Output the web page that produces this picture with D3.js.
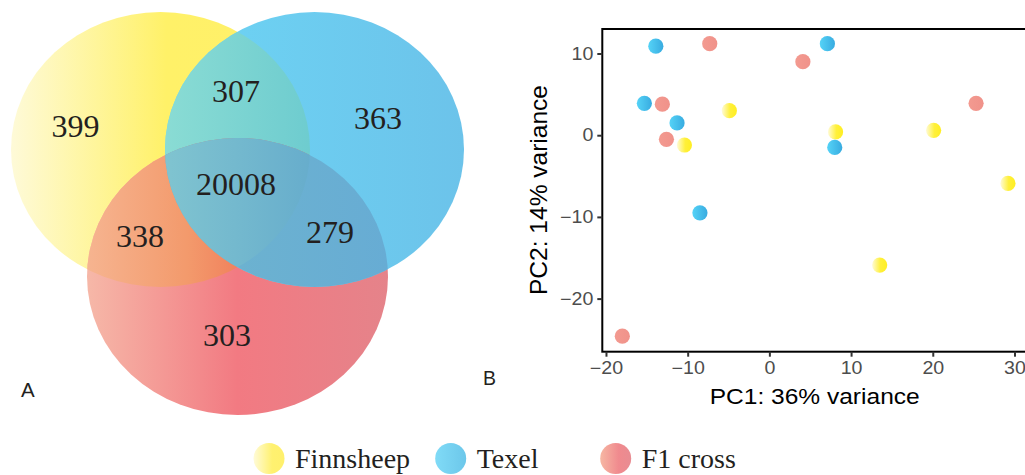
<!DOCTYPE html>
<html><head><meta charset="utf-8">
<script src="https://cdn.jsdelivr.net/npm/d3@7"></script>
<style>body{margin:0;background:#fff}svg{display:block}</style>
</head><body>
<svg id="c" width="1025" height="475"></svg>
<script>
// ---------- data ----------
const groups = ["Finnsheep", "Texel", "F1 cross"];
const vennRegions = ["Finnsheep only", "Texel only", "F1 only", "Finnsheep∩Texel", "Finnsheep∩F1", "Texel∩F1", "all three"];
const vennCounts = [399, 363, 303, 307, 338, 279, 20008];
const finnPC1 = [-4.9, -10.4, 8.1, 20.1, 29.2, 13.5];
const finnPC2 = [3.0, -1.2, 0.4, 0.6, -5.9, -15.9];
const texelPC1 = [-13.9, 7.1, -15.3, -11.3, 8.0, -8.5];
const texelPC2 = [10.9, 11.2, 3.9, 1.5, -1.5, -9.5];
const f1PC1 = [-7.3, 4.1, -13.1, -12.6, 25.3, -18.0];
const f1PC2 = [11.2, 9.0, 3.8, -0.5, 3.9, -24.6];
const xTicks = [-20, -10, 0, 10, 20, 30];
const yTicks = [-20, -10, 0, 10];
const xTitle = "PC1: 36% variance";
const yTitle = "PC2: 14% variance";

const svg = d3.select("#c");
const defs = svg.append("defs");
function lin(id, x1, x2, stops){
  const g = defs.append("linearGradient").attr("id", id)
    .attr("gradientUnits","userSpaceOnUse").attr("x1",x1).attr("x2",x2).attr("y1",0).attr("y2",0);
  stops.forEach(s => g.append("stop").attr("offset", s[0]).attr("stop-color", s[1]));
}
function linBB(id, stops){
  const g = defs.append("linearGradient").attr("id", id).attr("x1",0).attr("x2",1).attr("y1",0).attr("y2",0);
  stops.forEach(s => g.append("stop").attr("offset", s[0]).attr("stop-color", s[1]));
}

// ---------- Venn (A) ----------
const E = {
  Y: {cx:160.5, cy:149.5, rx:149.5, ry:137.5},
  B: {cx:314.5, cy:149.5, rx:149.5, ry:137.5},
  R: {cx:237.5, cy:276.5, rx:150.5, ry:138.5}
};
lin("gY", 11, 310, [[0,"#fefad8"],[0.52,"#fff168"],[1,"#fff06a"]]);
lin("gB", 165, 464, [[0,"#6dd5f5"],[1,"#6cc3ea"]]);
lin("gR", 87, 388, [[0,"#f6b8a8"],[0.5,"#f27a82"],[1,"#e5838a"]]);
lin("gYB", 165, 310, [[0,"#8adcd4"],[1,"#6ecccf"]]);
lin("gYR", 87, 310, [[0,"#f6b490"],[0.45,"#f39a6c"],[0.75,"#f07a58"],[1,"#f07a58"]]);
lin("gBR", 237, 388, [[0,"#6cb2d0"],[1,"#67acd4"]]);
lin("gYBR", 165, 310, [[0,"#80c4d0"],[1,"#67adcc"]]);

["Y","B","R"].forEach(k=>{
  defs.append("clipPath").attr("id","clip"+k).append("ellipse")
    .attr("cx",E[k].cx).attr("cy",E[k].cy).attr("rx",E[k].rx).attr("ry",E[k].ry);
});
const venn = svg.append("g");
function ell(parent, k, fill){
  return parent.append("ellipse").attr("cx",E[k].cx).attr("cy",E[k].cy)
    .attr("rx",E[k].rx).attr("ry",E[k].ry).attr("fill",fill);
}
ell(venn,"Y","url(#gY)");
ell(venn,"R","url(#gR)");
ell(venn,"B","url(#gB)");
ell(venn.append("g").attr("clip-path","url(#clipY)"),"B","url(#gYB)");
ell(venn.append("g").attr("clip-path","url(#clipY)"),"R","url(#gYR)");
ell(venn.append("g").attr("clip-path","url(#clipB)"),"R","url(#gBR)");
ell(venn.append("g").attr("clip-path","url(#clipY)").append("g").attr("clip-path","url(#clipB)"),"R","url(#gYBR)");

const vennLabelPos = [[75.5,137],[378,129],[227,346],[236,102],[140,247],[330,243],[236,195]];
venn.selectAll("text.cnt").data(vennCounts).join("text").attr("class","cnt")
  .attr("x",(d,i)=>vennLabelPos[i][0]).attr("y",(d,i)=>vennLabelPos[i][1])
  .attr("text-anchor","middle").attr("font-family","Liberation Serif, Times New Roman, serif")
  .attr("font-size",32).attr("fill","#231f20").text(d=>d);

svg.append("text").attr("x",21).attr("y",397).attr("font-family","Liberation Sans, Arial, sans-serif")
  .attr("font-size",20.5).attr("fill","#231f20").text("A");
svg.append("text").attr("x",483).attr("y",385).attr("font-family","Liberation Sans, Arial, sans-serif")
  .attr("font-size",21).attr("fill","#231f20").attr("textLength",13).attr("lengthAdjust","spacingAndGlyphs").text("B");

// ---------- PCA (B) ----------
const pLeft = 602.3, pTop = 29, pBottom = 351.7;
const x = d3.scaleLinear().domain([-20.45, 31.7]).range([pLeft, pLeft + 52.15*8.17]);
const y = d3.scaleLinear().domain([-26.5, 13.0]).range([pBottom, pTop]);

linBB("pY", [[0,"#fffbd8"],[0.55,"#fff03a"],[1,"#ffee22"]]);
linBB("pB", [[0,"#55d3f7"],[1,"#38abe0"]]);
linBB("pR", [[0,"#f39a90"],[1,"#f0928a"]]);

const series = [
  {name:groups[0], xs:finnPC1, ys:finnPC2, fill:"url(#pY)"},
  {name:groups[1], xs:texelPC1, ys:texelPC2, fill:"url(#pB)"},
  {name:groups[2], xs:f1PC1, ys:f1PC2, fill:"url(#pR)"}
];
const pts = svg.append("g");
series.forEach(s=>{
  pts.selectAll(null).data(s.xs.map((v,i)=>[v,s.ys[i]])).join("circle")
    .attr("cx",d=>x(d[0])).attr("cy",d=>y(d[1])).attr("r",7.6).attr("fill",s.fill);
});

// panel frame
svg.append("rect").attr("x",pLeft).attr("y",pTop).attr("width",1040-pLeft).attr("height",pBottom-pTop)
  .attr("fill","none").attr("stroke","#000").attr("stroke-width",2);

const fmt = d => d < 0 ? "\u2212" + Math.abs(d) : String(d);
const xa = svg.append("g").attr("transform",`translate(0,${pBottom})`)
  .call(d3.axisBottom(x).tickValues(xTicks).tickFormat(fmt).tickSize(5).tickPadding(5));
const ya = svg.append("g").attr("transform",`translate(${pLeft},0)`)
  .call(d3.axisLeft(y).tickValues(yTicks).tickFormat(fmt).tickSize(5).tickPadding(4));
[xa, ya].forEach(a=>{
  a.select(".domain").remove();
  a.selectAll(".tick line").attr("stroke","#333").attr("stroke-width",2);
  a.selectAll(".tick text").attr("fill","#4d4d4d").attr("font-size",17.5)
    .attr("font-family","Liberation Sans, Arial, sans-serif")
    .each(function(){ const w=this.getComputedTextLength(); d3.select(this).attr("textLength",w*1.12).attr("lengthAdjust","spacingAndGlyphs"); });
});

svg.append("text").attr("x",814.7).attr("y",403.5).attr("text-anchor","middle")
  .attr("font-family","Liberation Sans, Arial, sans-serif").attr("font-size",22)
  .attr("textLength",210).attr("lengthAdjust","spacingAndGlyphs").attr("fill","#000").text(xTitle);
svg.append("text").attr("transform","translate(546.5,190) rotate(-90)").attr("text-anchor","middle")
  .attr("font-family","Liberation Sans, Arial, sans-serif").attr("font-size",24)
  .attr("textLength",210).attr("lengthAdjust","spacingAndGlyphs").attr("fill","#000").text(yTitle);

// ---------- legend ----------
linBB("lY", [[0,"#fffbd8"],[0.6,"#fff170"],[1,"#fff06c"]]);
linBB("lB", [[0,"#80dbf7"],[1,"#6cc7ea"]]);
linBB("lR", [[0,"#f6b7a3"],[0.6,"#f08a8e"],[1,"#e88c92"]]);
const legX = [269, 450.7, 615.7];
const legFill = ["url(#lY)","url(#lB)","url(#lR)"];
const leg = svg.append("g");
groups.forEach((g,i)=>{
  leg.append("circle").attr("cx",legX[i]).attr("cy",458.5).attr("r",15.5).attr("fill",legFill[i]);
  leg.append("text").attr("x",legX[i]+26).attr("y",468).attr("font-family","Liberation Serif, Times New Roman, serif")
    .attr("font-size",28).attr("fill","#231f20").text(g);
});
</script>
</body></html>
